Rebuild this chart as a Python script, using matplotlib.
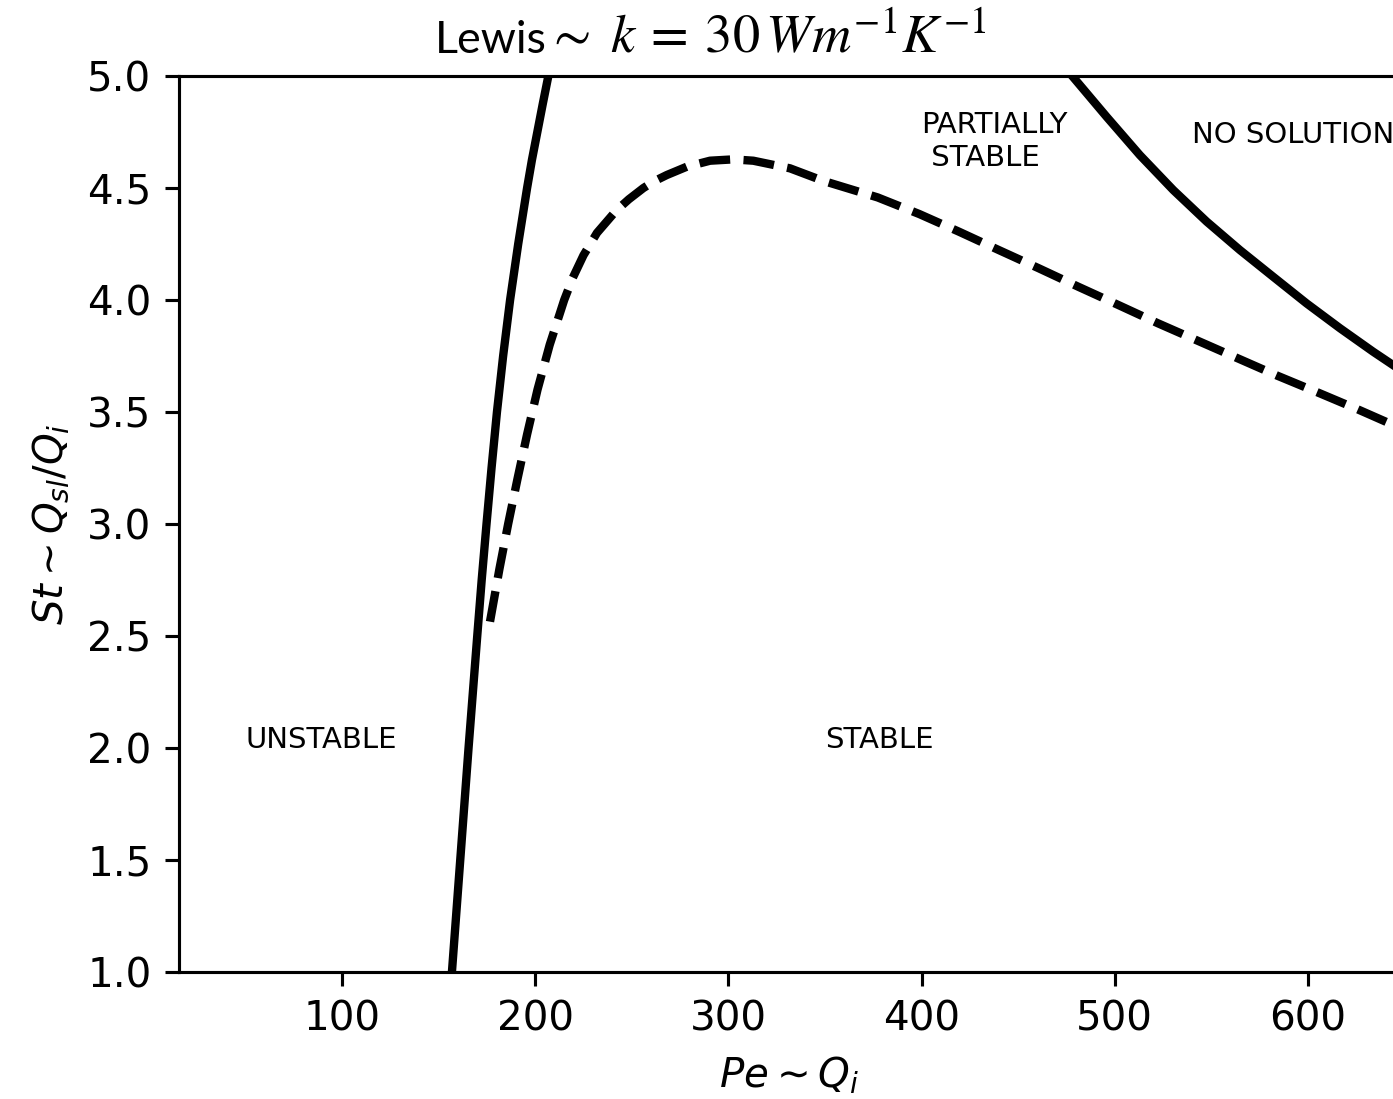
import numpy as np
import matplotlib.pyplot as plt

# 稳定性边界数据
st_left = [1.0, 1.5, 2.0, 2.5, 2.75, 3.0, 3.25, 3.5, 3.75, 4.0, 4.25, 4.5, 4.625, 4.75, 4.875, 5.0]
pe_left = [156.9, 161.2, 165.5, 170.0, 172.3, 174.8, 177.4, 180.2, 183.4, 187.0, 191.2,
           195.8, 198.3, 201.1, 203.9, 206.8]

st_dash = [2.564, 2.8, 3.0, 3.2, 3.4, 3.6, 3.8, 4.0, 4.1, 4.2, 4.3, 4.4, 4.45, 4.5, 4.53,
           4.558, 4.595, 4.622, 4.628, 4.622, 4.588, 4.532, 4.458, 4.384, 4.305,
           4.223, 4.142, 4.059, 3.978, 3.896, 3.818, 3.740, 3.662, 3.588, 3.513, 3.420]
pe_dash = [176.6, 181.5, 186.0, 190.8, 195.8, 201.2, 207.5, 215.0, 219.5, 225.0, 232.0,
           242.0, 248.5, 256.0, 261.5, 268.1, 278.4, 290.5, 302.5, 312.9, 331.9, 349.1,
           377.3, 398.8, 419.4, 440.0, 460.6, 481.2, 501.8, 522.4, 543.0, 563.6, 584.2,
           604.9, 625.5, 650.0]

pe_right = [478.0, 495.8, 513.0, 530.3, 547.6, 564.8, 582.0, 599.3, 616.6, 633.8, 644.0, 650.0]
st_right = [5.0, 4.818, 4.647, 4.491, 4.350, 4.223, 4.104, 3.985, 3.874, 3.769, 3.710, 3.675]

xticks = [100, 200, 300, 400, 500, 600]
yticks = [1.0, 1.5, 2.0, 2.5, 3.0, 3.5, 4.0, 4.5, 5.0]

fig = plt.figure(figsize=(4.975, 3.925), dpi=280)
ax = fig.add_axes([0.1282, 0.1156, 0.8773, 0.8152])

ax.plot(pe_left, st_left, "k-", linewidth=2.15)
ax.plot(pe_dash, st_dash, "k--", linewidth=2.15)
ax.plot(pe_right, st_right, "k-", linewidth=2.15)

# 区域标注
ax.text(50, 2.0, "UNSTABLE", fontsize=7.5)
ax.text(350, 2.0, "STABLE", fontsize=7.5)
ax.text(400, 4.6, "PARTIALLY\n STABLE", fontsize=7.5)
ax.text(540, 4.7, "NO SOLUTION", fontsize=7.5)

ax.set_xlim(15.4, 648)
ax.set_ylim(1.0, 5.0)
ax.set_xticks(xticks)
ax.set_yticks(yticks)
ax.set_yticklabels([f"{v:.1f}" for v in yticks])
ax.tick_params(labelsize=10.4)

ax.set_xlabel(r"$Pe \sim Q_i$", fontsize=10.4)
ax.set_ylabel(r"$St \sim Q_{sl}/Q_i$", fontsize=10.4)

# 标题（分两段：普通文字 + 公式）
ty = 1 - 53 / 1099
fig.text(435 / 1393, ty, "Lewis", fontsize=11.5, family="Lato", ha="left", va="baseline")
fig.text(546 / 1393, ty, r"$\sim\;k\:=\:30\,Wm^{-1}K^{-1}$", fontsize=14,
         math_fontfamily="stix", ha="left", va="baseline")

fig.savefig("out.png", dpi=280)
